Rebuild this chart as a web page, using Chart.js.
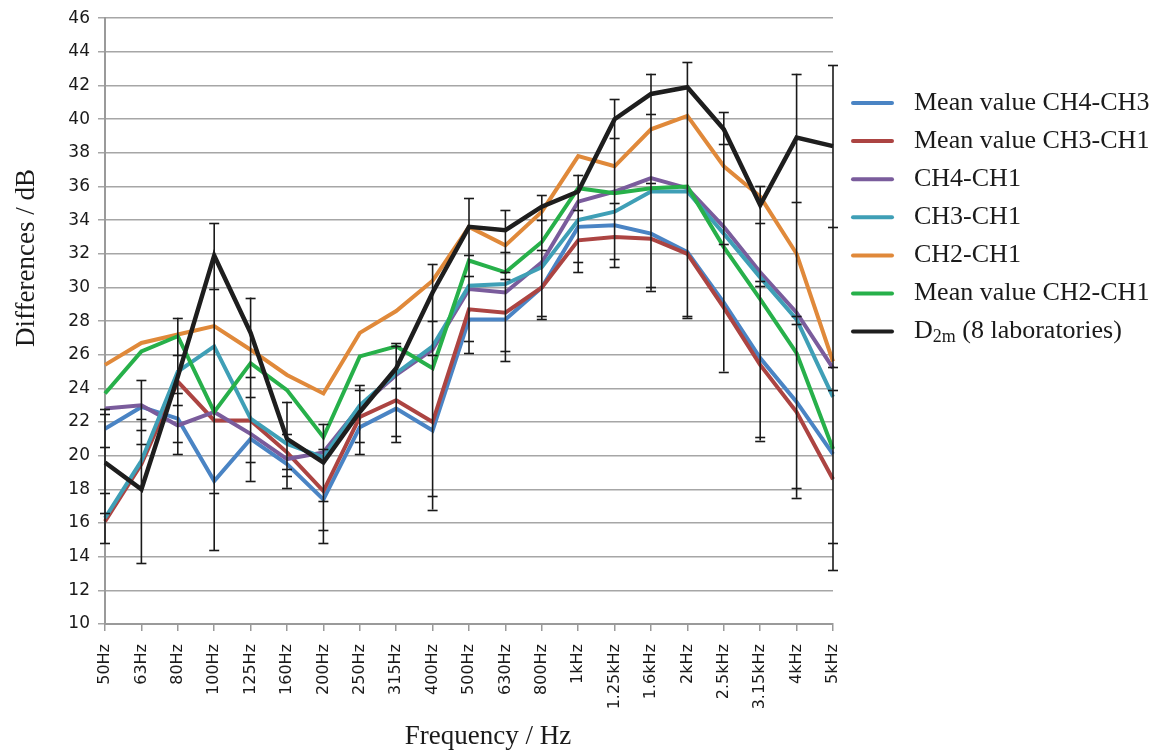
<!DOCTYPE html>
<html>
<head>
<meta charset="utf-8">
<script src="https://cdn.jsdelivr.net/npm/chart.js@4"></script>
<style>
  html, body { margin: 0; padding: 0; background: #fff; }
</style>
</head>
<body>
<canvas id="chart" width="1164" height="753"></canvas>
<script>
// categories (third-octave bands)
var freqLabels = ["50Hz", "63Hz", "80Hz", "100Hz", "125Hz", "160Hz", "200Hz", "250Hz", "315Hz", "400Hz",
  "500Hz", "630Hz", "800Hz", "1kHz", "1.25kHz", "1.6kHz", "2kHz", "2.5kHz", "3.15kHz", "4kHz", "5kHz"];

// series values, dB
var meanCH4CH3 = [21.6, 22.9, 22.2, 18.5, 21.0, 19.5, 17.4, 21.7, 22.8, 21.5, 28.1, 28.1, 30.0, 33.6, 33.7, 33.2, 32.1, 29.1, 25.8, 23.2, 20.1];
var meanCH3CH1 = [16.1, 19.5, 24.4, 22.1, 22.1, 20.2, 17.9, 22.3, 23.3, 22.0, 28.7, 28.5, 30.0, 32.8, 33.0, 32.9, 32.0, 28.8, 25.4, 22.6, 18.6];
var ch4ch1 = [22.8, 23.0, 21.8, 22.6, 21.3, 19.8, 20.2, 22.9, 24.8, 26.3, 29.9, 29.7, 31.5, 35.1, 35.7, 36.5, 35.9, 33.6, 30.9, 28.5, 25.2];
var ch3ch1 = [16.3, 19.7, 25.0, 26.5, 22.2, 20.7, 19.9, 23.0, 24.9, 26.5, 30.1, 30.2, 31.2, 34.0, 34.5, 35.7, 35.7, 33.2, 30.6, 28.1, 23.5];
var ch2ch1 = [25.4, 26.7, 27.2, 27.7, 26.3, 24.8, 23.7, 27.3, 28.6, 30.4, 33.6, 32.5, 34.5, 37.8, 37.2, 39.4, 40.2, 37.2, 35.4, 32.0, 25.6];
var meanCH2CH1 = [23.7, 26.2, 27.1, 22.6, 25.5, 23.9, 21.1, 25.9, 26.5, 25.2, 31.6, 30.9, 32.7, 35.9, 35.6, 35.9, 36.0, 32.4, 29.3, 26.1, 20.4];
var d2m = [19.6, 18.0, 24.7, 31.9, 27.3, 21.0, 19.6, 22.6, 25.2, 29.7, 33.6, 33.4, 34.8, 35.7, 40.0, 41.5, 41.9, 39.4, 34.9, 38.9, 38.4];

// error bar cap values per band, dB
var errorCaps = [
  [22.8, 22.5, 20.5, 17.8, 16.6, 14.8],
  [24.5, 22.2, 21.5, 20.7, 13.6],
  [28.2, 26.0, 23.7, 23.0, 20.8, 20.1],
  [33.8, 29.9, 17.8, 14.4],
  [29.4, 24.7, 23.5, 19.6, 18.5],
  [23.2, 21.3, 19.2, 18.8, 18.1],
  [21.9, 20.4, 17.3, 15.6, 14.8],
  [24.2, 23.9, 20.8, 20.1],
  [26.7, 26.5, 24.0, 21.2, 20.8],
  [31.4, 28.0, 26.0, 17.6, 16.8],
  [35.3, 31.9, 30.7, 26.8, 26.1],
  [34.6, 32.1, 30.9, 30.5, 26.2, 25.6],
  [35.5, 34.0, 32.2, 28.3, 28.1],
  [36.7, 34.6, 31.5, 30.9],
  [41.2, 38.9, 35.0, 31.7, 31.2],
  [42.7, 40.3, 36.2, 30.0, 29.8],
  [43.4, 28.3, 28.2],
  [40.4, 38.5, 32.6, 25.0],
  [36.0, 33.8, 30.4, 30.1, 21.1, 20.9],
  [42.7, 35.1, 28.3, 27.8, 18.1, 17.5],
  [43.2, 33.6, 25.3, 23.9, 14.8, 13.2]
];

var seriesNames = ["Mean value CH4-CH3", "Mean value CH3-CH1", "CH4-CH1", "CH3-CH1", "CH2-CH1", "Mean value CH2-CH1", "D2m (8 laboratories)"];
var seriesColors = ["#4a84c4", "#ac4442", "#7a5c9c", "#3f9fb6", "#e0893a", "#27b04a", "#1e1e1e"];
var seriesData = [meanCH4CH3, meanCH3CH1, ch4ch1, ch3ch1, ch2ch1, meanCH2CH1, d2m];

var SERIF = "'Liberation Serif', 'Times New Roman', serif";
var SANS = "'DejaVu Sans', Verdana, sans-serif";

// error bars, axis titles and legend
var extrasPlugin = {
  id: 'extras',
  afterDatasetsDraw: function (chart) {
    var ctx = chart.ctx, xs = chart.scales.x, ys = chart.scales.y;
    ctx.save();
    ctx.strokeStyle = '#1a1a1a';
    ctx.lineWidth = 1.6;
    errorCaps.forEach(function (caps, i) {
      var px = xs.getPixelForValue(i);
      var lo = Math.min.apply(null, caps), hi = Math.max.apply(null, caps);
      ctx.beginPath();
      ctx.moveTo(px, ys.getPixelForValue(lo));
      ctx.lineTo(px, ys.getPixelForValue(hi));
      ctx.stroke();
      caps.forEach(function (c) {
        var py = Math.round(ys.getPixelForValue(c)) + 0.5;
        ctx.beginPath();
        ctx.moveTo(px - 5, py);
        ctx.lineTo(px + 5, py);
        ctx.stroke();
      });
    });
    ctx.restore();
  },
  afterDraw: function (chart) {
    var ctx = chart.ctx;
    ctx.save();
    ctx.fillStyle = '#1a1a1a';
    ctx.font = '27px ' + SERIF;
    ctx.textAlign = 'center';
    ctx.textBaseline = 'middle';
    ctx.fillText('Frequency / Hz', 488, 737);
    ctx.translate(27, 258);
    ctx.rotate(-Math.PI / 2);
    ctx.fillText('Differences / dB', 0, 0);
    ctx.restore();

    // legend
    ctx.save();
    ctx.textAlign = 'left';
    ctx.textBaseline = 'middle';
    ctx.fillStyle = '#1a1a1a';
    seriesNames.forEach(function (name, i) {
      var yy = 103 + i * 38.1;
      ctx.strokeStyle = seriesColors[i];
      ctx.lineWidth = 4;
      ctx.lineCap = 'round';
      ctx.beginPath();
      ctx.moveTo(853, yy);
      ctx.lineTo(892, yy);
      ctx.stroke();
      ctx.font = '26px ' + SERIF;
      if (name.indexOf('D2m') === 0) {
        var x0 = 914;
        ctx.fillText('D', x0, yy);
        x0 += ctx.measureText('D').width;
        ctx.font = '18px ' + SERIF;
        ctx.fillText('2m', x0, yy + 6);
        x0 += ctx.measureText('2m').width;
        ctx.font = '26px ' + SERIF;
        ctx.fillText(name.substring(3), x0, yy);
      } else {
        ctx.fillText(name, 914, yy);
      }
    });
    ctx.restore();
  }
};

var datasets = seriesData.map(function (vals, i) {
  return {
    label: seriesNames[i],
    data: vals,
    borderColor: seriesColors[i],
    backgroundColor: seriesColors[i],
    borderWidth: i === 6 ? 4.5 : 4,
    pointRadius: 0,
    tension: 0,
    fill: false,
    order: seriesData.length - i
  };
});

new Chart(document.getElementById('chart').getContext('2d'), {
  type: 'line',
  data: { labels: freqLabels, datasets: datasets },
  options: {
    responsive: false,
    devicePixelRatio: 1,
    animation: false,
    layout: { padding: { left: 0, right: 331, top: 14, bottom: 0 } },
    plugins: { legend: { display: false }, tooltip: { enabled: false } },
    scales: {
      x: {
        offset: false,
        afterFit: function (scale) { scale.height = 129; },
        grid: { display: true, drawOnChartArea: false, drawTicks: true, tickLength: 7, color: '#9a9a9a', lineWidth: 1.5 },
        border: { display: true, color: '#9a9a9a', width: 2 },
        ticks: { autoSkip: false, maxRotation: 90, minRotation: 90, padding: 13, color: '#1a1a1a', font: { family: SANS, size: 16 } }
      },
      y: {
        min: 10,
        max: 46,
        afterFit: function (scale) { scale.width = 105; },
        grid: { color: '#a6a6a6', lineWidth: 1.5, tickLength: 7, drawTicks: true },
        border: { display: true, color: '#9a9a9a', width: 2 },
        ticks: { stepSize: 2, padding: 8, color: '#1a1a1a', font: { family: SANS, size: 17 } }
      }
    }
  },
  plugins: [extrasPlugin]
});
</script>
</body>
</html>
